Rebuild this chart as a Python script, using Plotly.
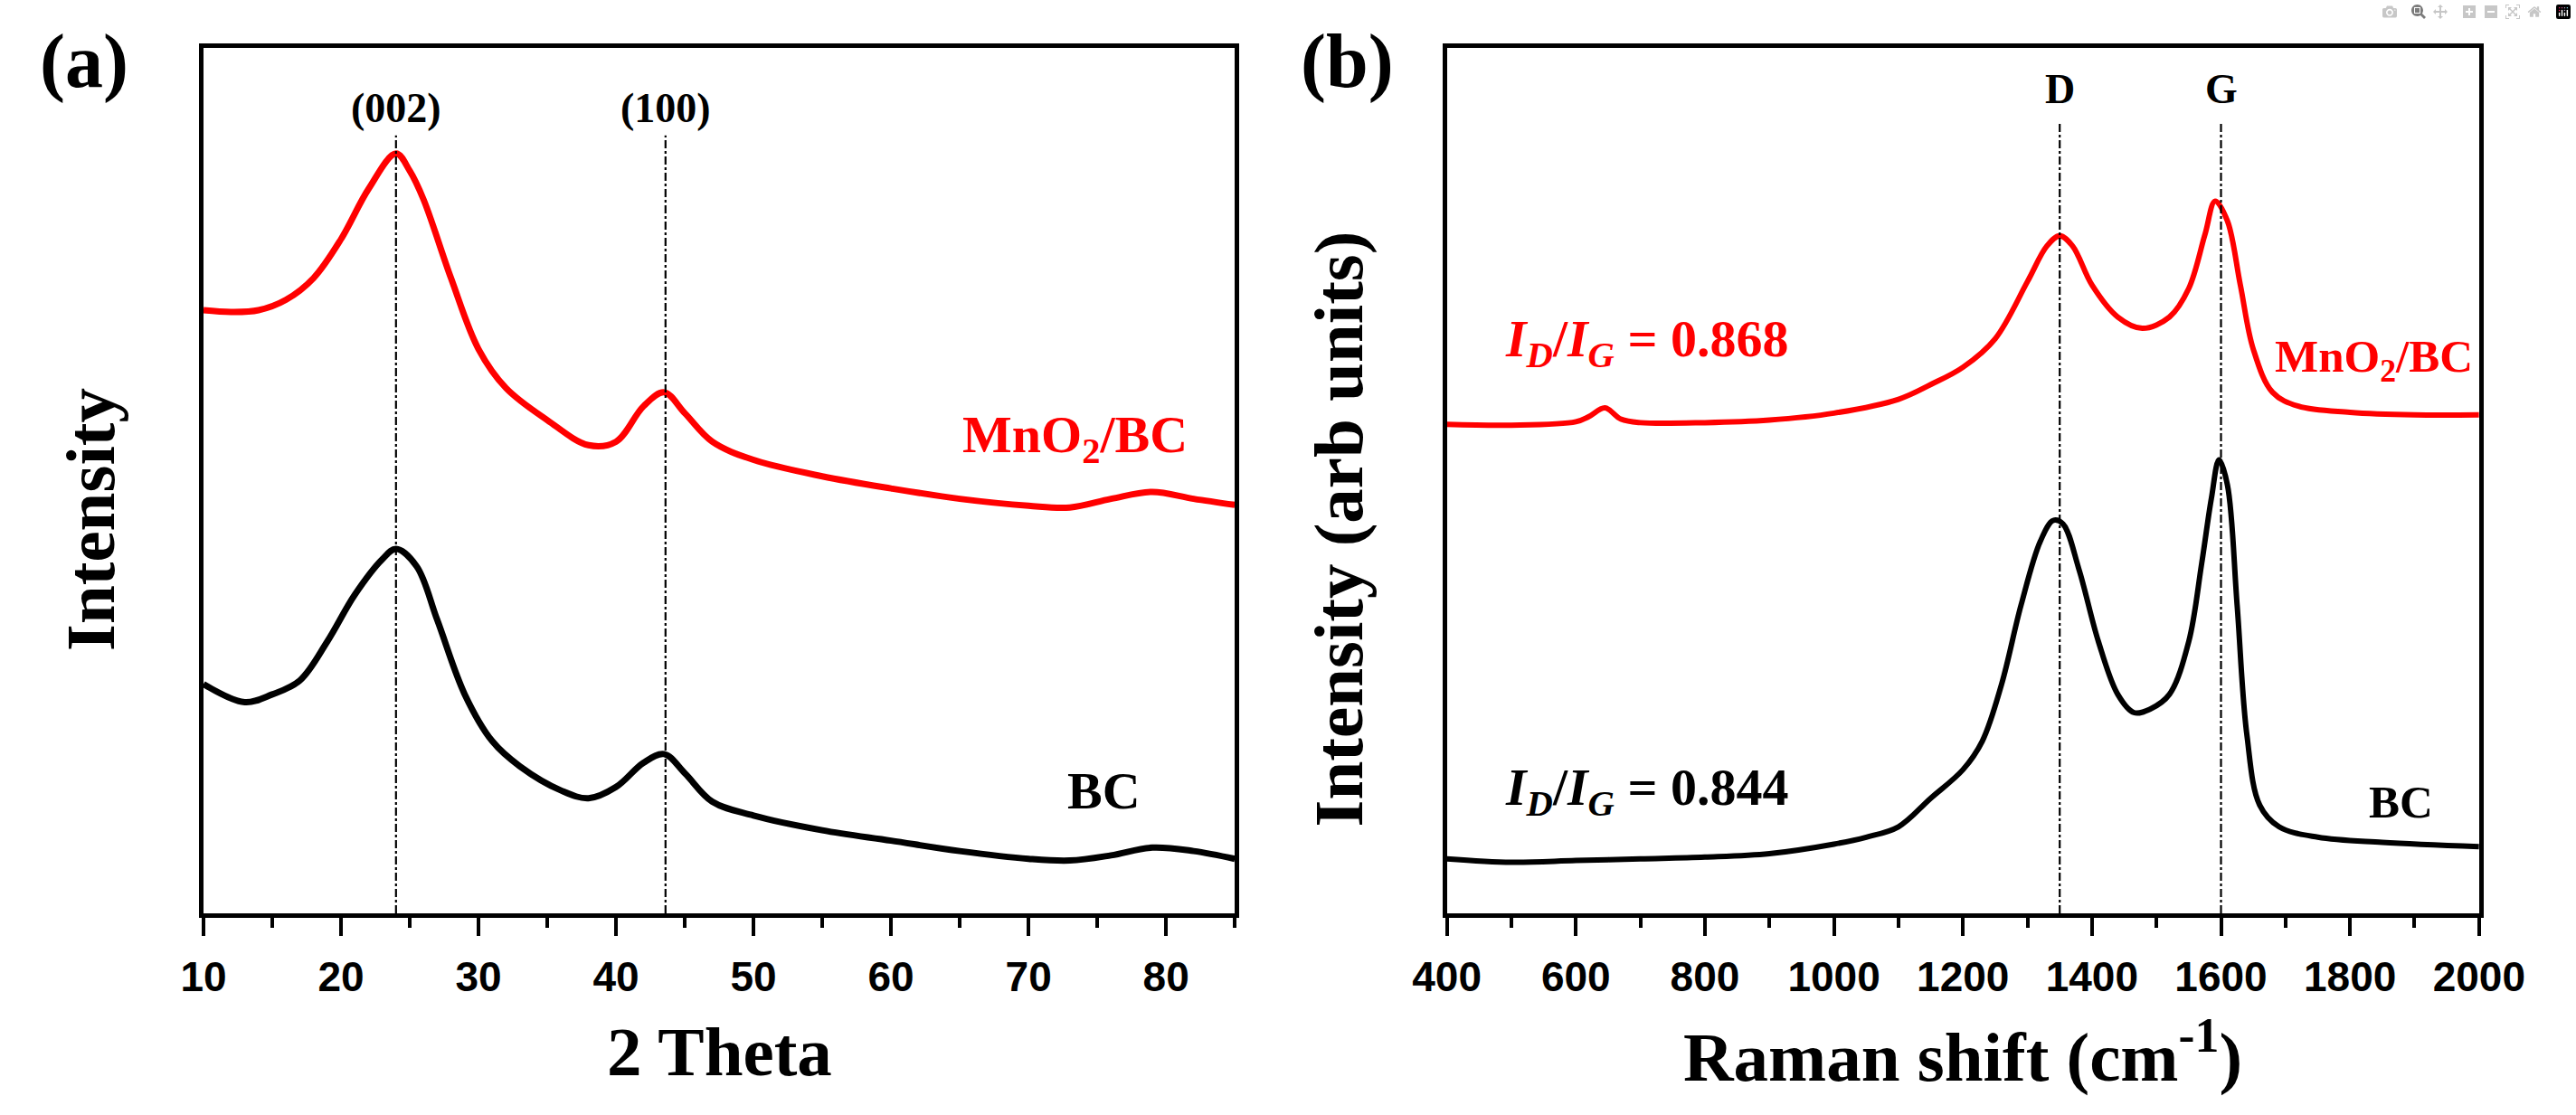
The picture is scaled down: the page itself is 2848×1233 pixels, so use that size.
import plotly.graph_objects as go

# ---------------- data ----------------
# (a) XRD, intensity in arbitrary units (0-1000 of the plot height)
xrd_theta_mno2 = [10, 12, 14, 16, 18, 20, 22, 24, 25, 26, 28, 30, 32, 35, 38, 40, 42, 43.5, 45, 47,
                  50, 55, 60, 65, 70, 73, 76, 79, 82, 85]
xrd_mno2 = [697, 695, 697, 709, 734, 779, 837, 878, 858, 825, 734, 652, 607, 570, 541, 545, 586, 602,
            578, 545, 524, 505, 491, 479, 471, 469, 479, 487, 479, 472]
xrd_theta_bc = [10, 13, 15, 17, 19, 21, 23, 24, 25.5, 27, 29, 31, 33, 36, 38, 40, 42, 43.5, 45, 47,
                50, 55, 60, 65, 70, 73, 76, 79, 82, 85]
xrd_bc = [265, 244, 253, 269, 314, 368, 409, 421, 401, 339, 253, 199, 170, 142, 133, 146, 174, 184,
          162, 129, 113, 96, 84, 72, 63, 61, 67, 76, 72, 63]

# (b) Raman
raman_shift_mno2 = [400, 500, 600, 620, 645, 670, 700, 800, 900, 1000, 1100, 1150, 1200, 1250, 1300,
                    1330, 1350, 1370, 1400, 1440, 1478, 1520, 1550, 1575, 1591, 1610, 1630, 1650,
                    1680, 1720, 1800, 1900, 2000]
raman_mno2 = [565, 564, 568, 574, 584, 571, 567, 567, 570, 578, 594, 611, 631, 664, 730, 771, 783,
              771, 726, 689, 676, 689, 722, 784, 823, 800, 726, 652, 602, 586, 579, 576, 576]
raman_shift_bc = [400, 500, 600, 700, 800, 900, 1000, 1050, 1100, 1150, 1200, 1230, 1260, 1290, 1320,
                  1340, 1355, 1380, 1410, 1440, 1465, 1490, 1520, 1550, 1570, 1585, 1597, 1610, 1625,
                  1640, 1660, 1690, 1750, 1850, 2000]
raman_bc = [63, 59, 61, 63, 65, 69, 80, 88, 100, 133, 166, 199, 265, 356, 430, 454, 450, 397, 314,
            253, 232, 236, 253, 314, 404, 479, 524, 495, 356, 207, 125, 100, 88, 82, 77]

xrd_peaks = [24.0, 43.6]
xrd_peak_labels = ["(002)", "(100)"]
raman_peaks = [1350, 1600]
raman_peak_labels = ["D", "G"]
ratio_labels = ["0.868", "0.844"]

xrd_ticks = [10, 20, 30, 40, 50, 60, 70, 80]
raman_ticks = [400, 600, 800, 1000, 1200, 1400, 1600, 1800, 2000]

# ---------------- figure ----------------
W, H = 2848, 1233
SERIF = "Liberation Serif"
SANS = "Liberation Sans Narrow, Liberation Sans, Arial"
RED = "#FF0000"
BLACK = "#000000"

fig = go.Figure()
fig.add_trace(go.Scatter(x=xrd_theta_mno2, y=xrd_mno2, mode="lines", line=dict(color=RED, width=7, shape="spline"),
                         xaxis="x", yaxis="y", showlegend=False))
fig.add_trace(go.Scatter(x=xrd_theta_bc, y=xrd_bc, mode="lines", line=dict(color=BLACK, width=7, shape="spline"),
                         xaxis="x", yaxis="y", showlegend=False))
fig.add_trace(go.Scatter(x=raman_shift_mno2, y=raman_mno2, mode="lines", line=dict(color=RED, width=6, shape="spline"),
                         xaxis="x2", yaxis="y2", showlegend=False))
fig.add_trace(go.Scatter(x=raman_shift_bc, y=raman_bc, mode="lines", line=dict(color=BLACK, width=6, shape="spline"),
                         xaxis="x2", yaxis="y2", showlegend=False))

ydom = [1 - 1010 / H, 1 - 53 / H]
xdom_a = [193 / W, 1370 / W]
xdom_b = [1612 / W, 2790 / W]

axis_common = dict(showline=True, linecolor="black", linewidth=5, mirror=True, showgrid=False,
                   zeroline=False)
xaxis_common = dict(axis_common, ticks="outside", ticklen=20, tickwidth=4, tickcolor="black",
                    tickfont=dict(family=SANS, size=46, color="black", weight="bold"),
                    ticklabelstandoff=6)
yaxis_common = dict(axis_common, showticklabels=False, ticks="", range=[0, 1000])

fig.update_layout(
    width=W, height=H, margin=dict(l=0, r=0, t=0, b=0),
    plot_bgcolor="white", paper_bgcolor="white",
    xaxis=dict(xaxis_common, domain=xdom_a, range=[10, 85], tickvals=xrd_ticks,
               minor=dict(dtick=5, tick0=10, ticks="outside", ticklen=11, tickwidth=4, tickcolor="black"),
               anchor="y"),
    yaxis=dict(yaxis_common, domain=ydom, anchor="x"),
    xaxis2=dict(xaxis_common, domain=xdom_b, range=[400, 2000], tickvals=raman_ticks,
                minor=dict(dtick=100, tick0=400, ticks="outside", ticklen=11, tickwidth=4, tickcolor="black"),
                anchor="y2"),
    yaxis2=dict(yaxis_common, domain=ydom, anchor="x2"),
)

# dashed peak markers
for xp in xrd_peaks:
    fig.add_shape(type="line", xref="x", yref="y", x0=xp, x1=xp, y0=0, y1=899,
                  line=dict(color="black", width=2.2, dash="dashdot"))
for xp in raman_peaks:
    fig.add_shape(type="line", xref="x2", yref="y2", x0=xp, x1=xp, y0=0, y1=915,
                  line=dict(color="black", width=2.2, dash="dashdot"))

ann = []


def add(**kw):
    kw.setdefault("showarrow", False)
    kw.setdefault("xanchor", "center")
    kw.setdefault("yanchor", "middle")
    ann.append(kw)


for xp, lab in zip(xrd_peaks, xrd_peak_labels):
    add(x=xp, y=930, xref="x", yref="y", text="<b>%s</b>" % lab,
        font=dict(family=SERIF, size=46, color="black"))
for xp, lab in zip(raman_peaks, raman_peak_labels):
    add(x=xp, y=952, xref="x2", yref="y2", text="<b>%s</b>" % lab,
        font=dict(family=SERIF, size=46, color="black"))

# sample labels
add(x=81.7, y=549, xref="x", yref="y", xanchor="right", text="<b>MnO<sub>2</sub>/BC</b>",
    font=dict(family=SERIF, size=58, color=RED))
add(x=75.5, y=142, xref="x", yref="y", text="<b>BC</b>",
    font=dict(family=SERIF, size=58, color="black"))
add(x=1993, y=640, xref="x2", yref="y2", xanchor="right", text="<b>MnO<sub>2</sub>/BC</b>",
    font=dict(family=SERIF, size=51, color=RED))
add(x=1879, y=129, xref="x2", yref="y2", text="<b>BC</b>",
    font=dict(family=SERIF, size=51, color="black"))

# ID/IG labels
ratio_tpl = "<b><i>I</i><sub><i>D</i></sub>/<i>I</i><sub><i>G</i></sub> = %s</b>"
add(x=487, y=660, xref="x2", yref="y2", xanchor="left", text=ratio_tpl % ratio_labels[0],
    font=dict(family=SERIF, size=58, color=RED))
add(x=487, y=142, xref="x2", yref="y2", xanchor="left", text=ratio_tpl % ratio_labels[1],
    font=dict(family=SERIF, size=58, color="black"))

# axis titles
add(x=(xdom_a[0] + xdom_a[1]) / 2, y=1 - 1163 / H, xref="paper", yref="paper",
    text="<b>2 Theta</b>", font=dict(family=SERIF, size=77, color="black"))
add(x=(xdom_b[0] + xdom_b[1]) / 2, y=1 - 1163 / H, xref="paper", yref="paper",
    text="<b>Raman shift (cm<sup>-1</sup>)</b>", font=dict(family=SERIF, size=77, color="black"))
add(x=64 / W, y=1 - 575 / H, xref="paper", yref="paper", text="<b>Intensity</b>",
    textangle=-90, font=dict(family=SERIF, size=77, color="black"))
add(x=1489 / W, y=1 - 585 / H, xref="paper", yref="paper", text="<b>Intensity (arb units)</b>",
    textangle=-90, font=dict(family=SERIF, size=77, color="black"))

# panel letters
add(x=57 / W, y=1 - 68 / H, xref="paper", yref="paper", text="<b>(a)</b>",
    font=dict(family=SERIF, size=84, color="black"))
add(x=1498 / W, y=1 - 68 / H, xref="paper", yref="paper", text="<b>(b)</b>",
    font=dict(family=SERIF, size=84, color="black"))

fig.update_layout(annotations=ann)

fig.write_html("out.html", post_script="document.body.style.margin='0';document.body.style.overflow='hidden';")
